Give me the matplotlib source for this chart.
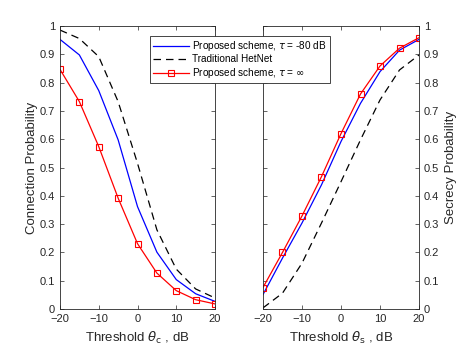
import numpy as np
import matplotlib.pyplot as plt

plt.rcParams['font.family'] = ['Liberation Sans', 'DejaVu Sans']
plt.rcParams['mathtext.fontset'] = 'dejavusans'

# threshold values, dB
theta = [-20, -15, -10, -5, 0, 5, 10, 15, 20]

# connection probability (left)
conn_prop80 = [0.953, 0.898, 0.772, 0.598, 0.362, 0.201, 0.104, 0.054, 0.027]
conn_trad = [0.986, 0.956, 0.892, 0.733, 0.515, 0.280, 0.141, 0.071, 0.039]
conn_propinf = [0.847, 0.733, 0.574, 0.392, 0.231, 0.127, 0.065, 0.033, 0.018]

# secrecy probability (right)
sec_prop80 = [0.051, 0.180, 0.304, 0.439, 0.592, 0.727, 0.839, 0.915, 0.953]
sec_trad = [0.004, 0.056, 0.162, 0.304, 0.450, 0.598, 0.739, 0.845, 0.898]
sec_propinf = [0.076, 0.200, 0.329, 0.468, 0.620, 0.760, 0.859, 0.922, 0.959]

labels = [r'Proposed scheme, $\tau$ = -80 dB', 'Traditional HetNet',
          r'Proposed scheme, $\tau$ = $\infty$']

txt = '#262626'
fig = plt.figure(figsize=(4.63, 3.48), dpi=100)
ax1 = fig.add_axes([0.1296, 0.112, 0.3348, 0.813])
ax2 = fig.add_axes([0.568, 0.112, 0.337, 0.813])


def style(ax):
    ax.set_xlim(-20, 20)
    ax.set_ylim(0, 1)
    ax.set_xticks([-20, -10, 0, 10, 20])
    ax.set_yticks(np.arange(0, 1.01, 0.1))
    ax.set_yticklabels(['0'] + ['%.1f' % v for v in np.arange(0.1, 0.95, 0.1)] + ['1'])
    ax.tick_params(direction='in', length=3, width=0.5, labelsize=8, colors=txt,
                   top=True, right=True, left=True, bottom=True)
    for s in ax.spines.values():
        s.set_linewidth(0.6)
        s.set_color(txt)


dash = (0, (6, 4))
l1, = ax1.plot(theta, conn_prop80, color='#0000ff', lw=0.9)
l2, = ax1.plot(theta, conn_trad, color='k', lw=0.9, ls=dash)
l3, = ax1.plot(theta, conn_propinf, color='#ff0000', lw=0.9, marker='s', ms=5, mfc='none', mew=0.8)
style(ax1)
ax1.set_ylabel('Connection Probability', fontsize=9.5, color=txt, labelpad=1)
ax1.set_xlabel(r'Threshold $\theta_{\rm c}$ , dB', fontsize=9.5, color=txt)

ax2.plot(theta, sec_prop80, color='#0000ff', lw=0.9)
ax2.plot(theta, sec_trad, color='k', lw=0.9, ls=dash)
ax2.plot(theta, sec_propinf, color='#ff0000', lw=0.9, marker='s', ms=5, mfc='none', mew=0.8)
style(ax2)
ax2.yaxis.tick_right()
ax2.tick_params(left=True)
ax2.yaxis.set_label_position('right')
ax2.set_ylabel('Secrecy Probability', fontsize=9.5, color=txt)
ax2.set_xlabel(r'Threshold $\theta_{\rm s}$ , dB', fontsize=9.5, color=txt)

leg = fig.legend([l1, l2, l3], labels, loc='upper left',
                 bbox_to_anchor=(150 / 463, 1 - 36 / 348), fontsize=7.2,
                 frameon=True, fancybox=False, edgecolor=txt, framealpha=1,
                 borderaxespad=0, borderpad=0.3, labelspacing=0.15,
                 handlelength=3.6, handletextpad=0.3)
leg.get_frame().set_linewidth(0.6)

fig.savefig('out.png', dpi=100)
